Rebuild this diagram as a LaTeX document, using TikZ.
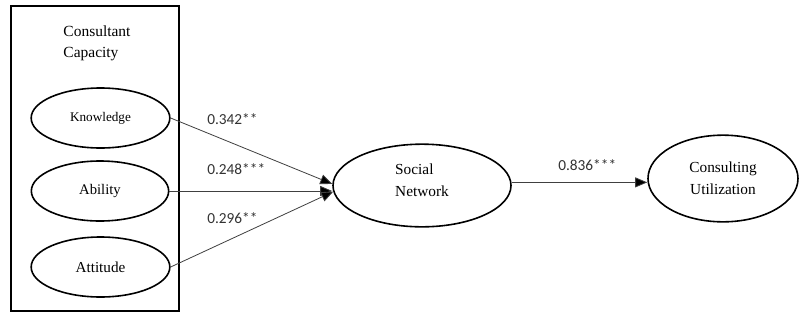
\documentclass[tikz,border=0pt]{standalone}
\usepackage{fontspec}
\setmainfont{Liberation Serif}
\newfontfamily\numfont{Carlito}
\usetikzlibrary{shapes.geometric,arrows.meta}
\tikzset{
  ell/.style={ellipse, draw, line width=1.2pt, inner sep=0pt},
  maintext/.style={font=\fontsize{11.5}{16.5}\selectfont, align=left},
  coef/.style={font=\numfont\fontsize{11.5}{13}\selectfont, text=black!80, anchor=west, inner sep=0pt},
  path/.style={draw=black!75, line width=0.6pt, -{Triangle[length=9pt,width=7.5pt,fill=black]}},
}
\begin{document}
\begin{tikzpicture}[x=0.75pt,y=-0.75pt]
\useasboundingbox (0,0) rectangle (799,322);
\fill[white] (0,0) rectangle (799,322);
% outer box
\draw[line width=1pt] (11,6) rectangle (179,311);
\node[maintext, font=\fontsize{11.6}{15.75}\selectfont] (cc) at (97,43.5) {Consultant\\Capacity};
% indicator ellipses
\node[ell, minimum width=104pt, minimum height=45pt, font=\fontsize{9.9}{12}\selectfont] (kn) at (100.5,118) {Knowledge};
\node[ell, minimum width=103pt, minimum height=45pt, font=\fontsize{11}{13}\selectfont] (ab) at (100,191) {Ability};
\node[ell, minimum width=104pt, minimum height=45pt, font=\fontsize{11.4}{13}\selectfont] (at) at (100.5,267) {Attitude};
% social network
\node[ell, minimum width=133.5pt, minimum height=62pt,
      label={[maintext, yshift=4pt]center:Social\\Network}] (sn) at (422,185.5) {};
% consulting utilization
\node[ell, minimum width=112.5pt, minimum height=65pt, maintext, align=center] (cu) at (723,178.5) {Consulting\\Utilization};
% paths
\draw[path] (kn.east) -- (sn.179);
\draw[path] (ab.east) -- (ab.east -| sn.west);
\draw[path] (at.east) -- (sn.184);
\draw[path] (sn.2) -- (sn.2 -| cu.west);
% coefficients
\node[coef] (c1) at (207,119.5) {0.342**};
\node[coef] (c2) at (207,169.5) {0.248***};
\node[coef] (c3) at (207,218) {0.296**};
\node[coef] (c4) at (558,165) {0.836***};
\end{tikzpicture}
\end{document}
